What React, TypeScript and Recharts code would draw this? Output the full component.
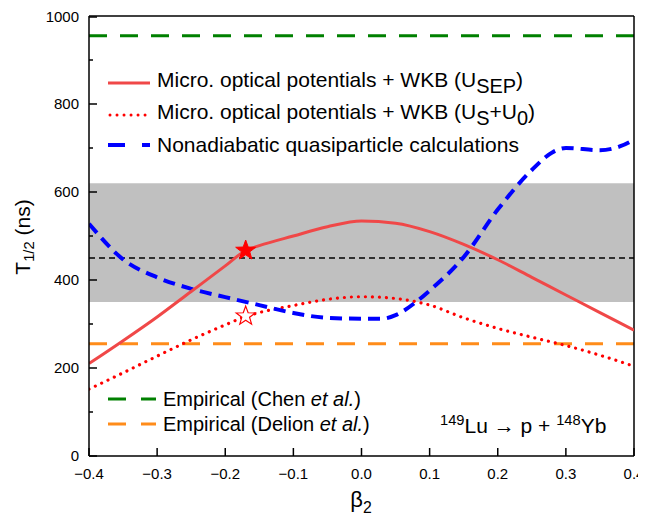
import React from 'react';
import {
  ComposedChart,
  Line,
  Scatter,
  XAxis,
  YAxis,
  ReferenceArea,
  ReferenceLine,
} from 'recharts';

// β2 grid and half-lives (ns)
const betaUsep = [-0.4, -0.35, -0.3, -0.25, -0.2, -0.17, -0.15, -0.1, -0.05, 0, 0.05, 0.1, 0.15, 0.2, 0.25, 0.3, 0.35, 0.4];
const tUsep = [210, 262, 316, 374, 432, 467, 478, 500, 521, 534, 529, 510, 481, 446, 406, 366, 326, 286];

const betaUsU0 = [-0.4, -0.35, -0.3, -0.25, -0.2, -0.17, -0.15, -0.1, -0.05, 0, 0.05, 0.1, 0.15, 0.2, 0.25, 0.3, 0.35, 0.4];
const tUsU0 = [152, 189, 227, 264, 298, 317, 326, 342, 356, 362, 358, 343, 314, 290, 270, 251, 229, 204];

const betaQp = [-0.4, -0.35, -0.3, -0.25, -0.2, -0.15, -0.1, -0.05, 0, 0.03, 0.05, 0.08, 0.1, 0.15, 0.2, 0.25, 0.28, 0.3, 0.35, 0.38, 0.4];
const tQp = [528, 447, 406, 380, 361, 343, 325, 314, 312, 312, 320, 350, 376, 452, 560, 650, 690, 700, 695, 704, 719];

const starFilled = [{ x: -0.17, y: 467 }];
const starHollow = [{ x: -0.17, y: 318 }];

const tChen = 955;
const tDelion = 255;
const tExp = 450;
const expBand = [350, 620];

const xTicks = [-0.4, -0.3, -0.2, -0.1, 0, 0.1, 0.2, 0.3, 0.4];
const yTicks = [0, 100, 200, 300, 400, 500, 600, 700, 800, 900, 1000];

const toRows = (xs: number[], ys: number[]) => xs.map((x, i) => ({ x, y: ys[i] }));

const FONT = '"Liberation Sans", Arial, sans-serif';
const RED = '#F04848';
const BLUE = '#0000FF';
const GREEN = '#008000';
const ORANGE = '#FF8C1A';

const fmtX = (v: number) => (v < 0 ? '\u2212' + Math.abs(v).toFixed(1) : v.toFixed(1));

const XTick = (props: any) => {
  const { x, y, payload } = props;
  return (
    <g>
      <line x1={x} x2={x} y1={y} y2={y - 8} stroke="#000" strokeWidth={1.5} />
      <text x={x} y={y + 23} textAnchor="middle" fontSize={15} fontFamily={FONT} fill="#000">
        {fmtX(payload.value)}
      </text>
    </g>
  );
};

const YTick = (props: any) => {
  const { x, y, payload } = props;
  const major = payload.value % 200 === 0;
  return (
    <g>
      <line x1={x} x2={x + (major ? 8 : 4)} y1={y} y2={y} stroke="#000" strokeWidth={1.5} />
      {major && (
        <text x={x - 10} y={y} dy="0.36em" textAnchor="end" fontSize={15} fontFamily={FONT} fill="#000">
          {payload.value}
        </text>
      )}
    </g>
  );
};

const starPoints = (cx: number, cy: number, ro: number, ri: number) => {
  const pts: string[] = [];
  for (let i = 0; i < 10; i++) {
    const r = i % 2 === 0 ? ro : ri;
    const a = -Math.PI / 2 + (i * Math.PI) / 5;
    pts.push(`${cx + r * Math.cos(a)},${cy + r * Math.sin(a)}`);
  }
  return pts.join(' ');
};

const FilledStar = (props: any) => (
  <polygon points={starPoints(props.cx, props.cy, 10.5, 4.3)} fill="#FF0000" stroke="#FF0000" strokeWidth={1} />
);
const HollowStar = (props: any) => (
  <polygon points={starPoints(props.cx, props.cy, 10, 4.1)} fill="#fff" stroke="#FF0000" strokeWidth={1.2} />
);

const legendText: React.CSSProperties = { fontFamily: FONT, fontSize: 20, color: '#000', whiteSpace: 'nowrap' };
const sub: React.CSSProperties = { fontSize: '0.95em', verticalAlign: '-0.3em' };

const Row = ({ top, left, sample, width, size = 20, children }: any) => (
  <div style={{ position: 'absolute', top, left, height: 24, display: 'flex', alignItems: 'center', ...legendText, fontSize: size }}>
    <svg width={width} height={10} style={{ marginRight: 7 }}>
      {sample}
    </svg>
    <span>{children}</span>
  </div>
);

// wrapper pulled back over the body margin so the chart spans the full 646px width;
// overlay positions below are in wrapper pixels (page x, page y - 8)
export default function App() {
  return (
    <div style={{ position: 'relative', width: 646, height: 505, marginLeft: -8 }}>
      <ComposedChart width={646} height={505} margin={{ top: 8, right: 12, bottom: 27, left: 28 }}>
        <XAxis
          dataKey="x"
          type="number"
          domain={[-0.4, 0.4]}
          ticks={xTicks}
          tick={<XTick />}
          tickSize={0}
          tickMargin={0}
          tickLine={false}
          height={30}
          axisLine={{ stroke: '#000', strokeWidth: 1.5 }}
          allowDataOverflow
        />
        <YAxis
          type="number"
          domain={[0, 1000]}
          ticks={yTicks}
          tick={<YTick />}
          tickSize={0}
          tickMargin={0}
          tickLine={false}
          width={61}
          axisLine={{ stroke: '#000', strokeWidth: 1.5 }}
          allowDataOverflow
        />
        <ReferenceArea y1={expBand[0]} y2={expBand[1]} fill="#C0C0C0" fillOpacity={1} stroke="none" />
        <ReferenceLine y={tExp} stroke="#000" strokeWidth={1.5} strokeDasharray="6 4" />
        <ReferenceLine y={tChen} stroke={GREEN} strokeWidth={3} strokeDasharray="18 13" />
        <ReferenceLine y={tDelion} stroke={ORANGE} strokeWidth={3} strokeDasharray="18 13" />
        <ReferenceLine y={1000} stroke="#000" strokeWidth={1.5} />
        <ReferenceLine x={0.4} stroke="#000" strokeWidth={1.5} />
        <Line
          data={toRows(betaUsU0, tUsU0)}
          dataKey="y"
          type="monotone"
          stroke="#FF0000"
          strokeWidth={3.2}
          strokeDasharray="0.01 7"
          strokeLinecap="round"
          dot={false}
          isAnimationActive={false}
        />
        <Line
          data={toRows(betaQp, tQp)}
          dataKey="y"
          type="monotone"
          stroke={BLUE}
          strokeWidth={4}
          strokeDasharray="12 7"
          dot={false}
          isAnimationActive={false}
        />
        <Line
          data={toRows(betaUsep, tUsep)}
          dataKey="y"
          type="monotone"
          stroke={RED}
          strokeWidth={3}
          dot={false}
          isAnimationActive={false}
        />
        <Scatter data={starFilled} dataKey="y" shape={<FilledStar />} isAnimationActive={false} />
        <Scatter data={starHollow} dataKey="y" shape={<HollowStar />} isAnimationActive={false} />
      </ComposedChart>

      {/* upper legend */}
      <Row top={63} left={108} width={42} size={21} sample={<line x1={0} x2={42} y1={5} y2={5} stroke={RED} strokeWidth={3} />}>
        Micro. optical potentials + WKB (U<span style={sub}>SEP</span>)
      </Row>
      <Row
        top={95}
        left={108}
        width={42}
        size={21}
        sample={<line x1={2} x2={42} y1={5} y2={5} stroke="#FF0000" strokeWidth={3} strokeDasharray="0.01 7" strokeLinecap="round" />}
      >
        Micro. optical potentials + WKB (U<span style={sub}>S</span>+U<span style={sub}>0</span>)
      </Row>
      <Row
        top={125}
        left={108}
        width={42}
        size={21}
        sample={<line x1={0} x2={42} y1={5} y2={5} stroke={BLUE} strokeWidth={4} strokeDasharray="17 17" />}
      >
        Nonadiabatic quasiparticle calculations
      </Row>

      {/* lower legend */}
      <Row
        top={379}
        left={108}
        width={48}
        sample={<line x1={0} x2={48} y1={5} y2={5} stroke={GREEN} strokeWidth={3} strokeDasharray="18 15" />}
      >
        Empirical (Chen <i>et al.</i>)
      </Row>
      <Row
        top={404}
        left={108}
        width={48}
        sample={<line x1={0} x2={48} y1={5} y2={5} stroke={ORANGE} strokeWidth={3} strokeDasharray="18 15" />}
      >
        Empirical (Delion <i>et al.</i>)
      </Row>

      {/* reaction label */}
      <div style={{ position: 'absolute', top: 400, left: 440, height: 24, lineHeight: '24px', ...legendText, fontSize: 21 }}>
        <sup style={{ fontSize: '0.7em' }}>149</sup>Lu {'\u2192'} p + <sup style={{ fontSize: '0.7em' }}>148</sup>Yb
      </div>

      {/* axis titles */}
      <div
        style={{
          position: 'absolute',
          left: -37,
          top: 217,
          width: 120,
          height: 24,
          lineHeight: '24px',
          textAlign: 'center',
          transform: 'rotate(-90deg)',
          ...legendText,
          fontSize: 21,
        }}
      >
        T<span style={{ fontSize: '0.7em', verticalAlign: '-0.3em' }}>1/2</span> (ns)
      </div>
      <div
        style={{
          position: 'absolute',
          left: 311,
          top: 478,
          width: 100,
          height: 28,
          lineHeight: '28px',
          textAlign: 'center',
          ...legendText,
          fontSize: 22,
        }}
      >
        β<span style={{ fontSize: '0.72em', verticalAlign: '-0.35em' }}>2</span>
      </div>
    </div>
  );
}
